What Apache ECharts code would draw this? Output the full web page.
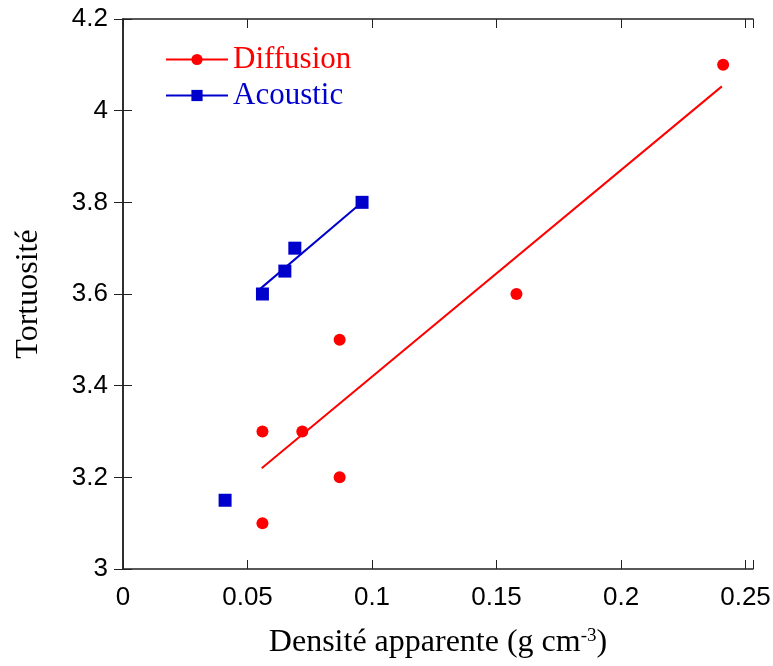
<!DOCTYPE html>
<html>
<head>
<meta charset="utf-8">
<script src="https://cdn.jsdelivr.net/npm/echarts@6/dist/echarts.min.js"></script>
<style>
	html, body { margin: 0; padding: 0; background: #fff; }
	#chart { width: 773px; height: 666px; }
</style>
</head>
<body>
<div id="chart"></div>
<script>
	// donnees
	var diffX = [0.056, 0.056, 0.072, 0.087, 0.087, 0.158, 0.241];
	var diffY = [3.1, 3.3, 3.3, 3.5, 3.2, 3.6, 4.1];
	var acoX = [0.041, 0.056, 0.065, 0.069, 0.096];
	var acoY = [3.15, 3.6, 3.65, 3.7, 3.8];
	// droites de regression (extremites lues)
	var diffFitX = [0.0557, 0.2405];
	var diffFitY = [3.22, 4.053];
	var acoFitX = [0.0546, 0.096];
	var acoFitY = [3.609, 3.8];

	var xTicks = { min: 0, max: 0.253, interval: 0.05 };
	var yTicks = { min: 3, max: 4.2, interval: 0.2 };

	function zip(xs, ys) {
		return xs.map(function (x, i) { return [x, ys[i]]; });
	}

	var serif = '"Liberation Serif", "DejaVu Serif", serif';
	var sans = '"Liberation Sans", Arial, sans-serif';
	var axisColor = '#222';

	var chart = echarts.init(document.getElementById('chart'));
	var option = {
		animation: false,
		grid: { left: 123, right: 20, top: 19, bottom: 97, containLabel: false, outerBoundsMode: 'none' },
		legend: {
			orient: 'vertical',
			left: 160,
			top: 39,
			itemWidth: 62,
			itemHeight: 14,
			itemGap: 5,
			lineStyle: { width: 2, opacity: 1 },
			textStyle: { fontFamily: serif, fontSize: 31, lineHeight: 30 },
			data: [
				{ name: 'Diffusion', textStyle: { color: '#ff0000' } },
				{ name: 'Acoustic', textStyle: { color: '#0000cc' } }
			]
		},
		xAxis: [{
			type: 'value',
			min: xTicks.min, max: xTicks.max, interval: xTicks.interval,
			name: 'Densité apparente (g cm{sup|-3})',
			nameLocation: 'middle',
			nameGap: 58,
			nameTextStyle: {
				fontFamily: serif, fontSize: 32, color: '#000',
				rich: { sup: { fontFamily: serif, fontSize: 19, color: '#000', verticalAlign: 'top' } }
			},
			axisLine: { lineStyle: { color: axisColor, width: 1.5 } },
			axisTick: { inside: true, length: 9, lineStyle: { color: axisColor } },
			axisLabel: {
				fontFamily: sans, fontSize: 26, color: '#000', margin: 16,
				formatter: function (v) { return v > 0.2501 ? '' : String(+v.toFixed(2)); }
			},
			splitLine: { show: false }
		}, {
			type: 'value', position: 'top',
			min: xTicks.min, max: xTicks.max, interval: xTicks.interval,
			axisLine: { lineStyle: { color: axisColor, width: 1.5 } },
			axisTick: { inside: true, length: 9, lineStyle: { color: axisColor } },
			axisLabel: { show: false },
			splitLine: { show: false }
		}],
		yAxis: [{
			type: 'value',
			min: yTicks.min, max: yTicks.max, interval: yTicks.interval,
			name: 'Tortuosité',
			nameLocation: 'middle',
			nameGap: 78,
			nameTextStyle: { fontFamily: serif, fontSize: 32, color: '#000' },
			axisLine: { lineStyle: { color: axisColor, width: 1.5 } },
			axisTick: { inside: true, length: 9, lineStyle: { color: axisColor } },
			axisLabel: { fontFamily: sans, fontSize: 26, color: '#000', margin: 15 },
			splitLine: { show: false }
		}, {
			type: 'value', position: 'right',
			min: yTicks.min, max: yTicks.max, interval: yTicks.interval,
			axisLine: { lineStyle: { color: axisColor, width: 1.5 } },
			axisTick: { inside: true, length: 9, lineStyle: { color: axisColor } },
			axisLabel: { show: false },
			splitLine: { show: false }
		}],
		series: [{
			name: 'Diffusion fit',
			type: 'line',
			data: zip(diffFitX, diffFitY),
			symbol: 'none',
			color: '#ff0000',
			lineStyle: { width: 2 }
		}, {
			name: 'Acoustic fit',
			type: 'line',
			data: zip(acoFitX, acoFitY),
			symbol: 'none',
			color: '#0000cc',
			lineStyle: { width: 2 }
		}, {
			name: 'Diffusion',
			type: 'line',
			data: zip(diffX, diffY),
			symbol: 'circle',
			symbolSize: 12,
			color: '#ff0000',
			lineStyle: { opacity: 0 }
		}, {
			name: 'Acoustic',
			type: 'line',
			data: zip(acoX, acoY),
			symbol: 'rect',
			symbolSize: 13,
			color: '#0000cc',
			lineStyle: { opacity: 0 }
		}]
	};
	chart.setOption(option);
</script>
</body>
</html>
